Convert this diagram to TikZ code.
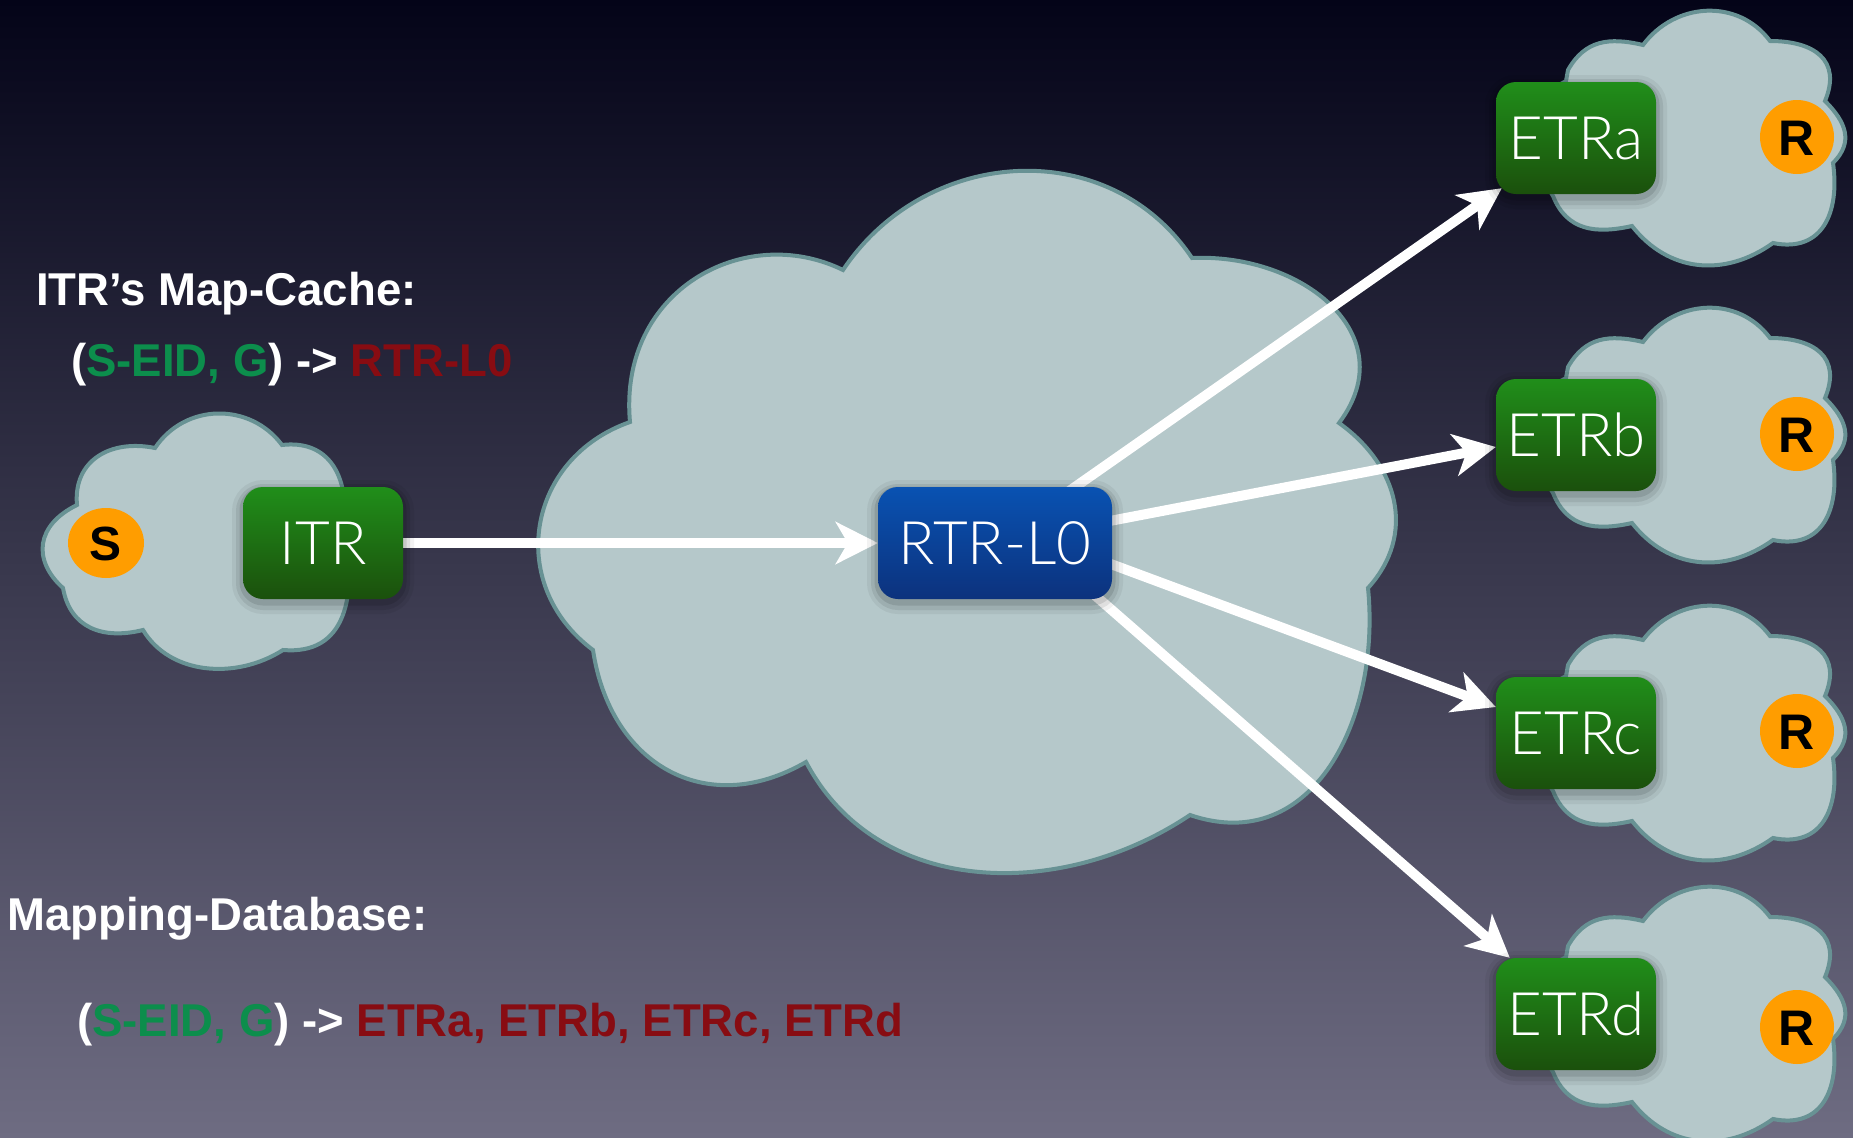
\documentclass[tikz,border=0pt]{standalone}
\usepackage{fontspec}
\setmainfont{Liberation Sans}
\newfontfamily\labelfont{Liberation Sans}[FakeStretch=0.99]
\newfontfamily\boxfont{Lato Light}
\usetikzlibrary{arrows.meta,shapes.geometric}

\definecolor{bgtop}{RGB}{4,4,24}
\definecolor{bgmid}{RGB}{50,48,82}
\definecolor{bgbot}{RGB}{110,108,130}
\definecolor{cloudfill}{RGB}{181,200,202}
\definecolor{cloudline}{RGB}{104,146,148}
\definecolor{greentop}{RGB}{32,142,26}
\definecolor{greenbot}{RGB}{27,80,12}
\definecolor{bluetop}{RGB}{9,82,178}
\definecolor{bluebot}{RGB}{12,50,125}
\definecolor{hostorange}{RGB}{255,157,0}
\definecolor{eidgreen}{RGB}{12,142,76}
\definecolor{rlocred}{RGB}{136,12,18}

\pgfdeclarelayer{back}
\pgfdeclarelayer{links}
\pgfsetlayers{back,links,main}

\tikzset{
  cloudpath/.style={fill=cloudfill, draw=cloudline, line width=4pt, line join=miter},
  router/.style={rounded corners=20pt, minimum height=112pt, inner sep=0pt,
    text=white, font=\boxfont\fontsize{60pt}{62pt}\selectfont,
    text height=43pt, text depth=0pt,
    preaction={draw=black, draw opacity=0.05, line width=22pt, transform canvas={yshift=-4pt}},
    preaction={draw=black, draw opacity=0.08, line width=14pt, transform canvas={yshift=-4pt}},
    preaction={draw=black, draw opacity=0.10, line width=7pt, transform canvas={yshift=-3pt}}},
  xtr/.style={router, minimum width=160pt, top color=greentop, bottom color=greenbot},
  rtrbox/.style={router, minimum width=234pt, top color=bluetop, bottom color=bluebot},
  host/.style={circle, fill=hostorange, minimum size=74pt, inner sep=0pt,
    font=\bfseries\fontsize{50pt}{52pt}\selectfont, text height=36pt, text depth=0pt},
  source/.style={ellipse, fill=hostorange, minimum width=76pt, minimum height=70pt, inner sep=0pt,
    font=\bfseries\fontsize{48pt}{50pt}\selectfont, text height=35pt, text depth=0pt},
  caption/.style={text=white, inner sep=0pt, anchor=base west,
    font=\labelfont\bfseries\fontsize{46pt}{50pt}\selectfont},
  flow/.style={draw=white, line width=10pt, -{Stealth[length=42pt, width=42pt, inset=12pt]}},
  % small cloud around an egress router, drawn relative to the router centre
  etrcloud/.pic={
    \draw[cloudpath] (-8,-68)
      .. controls (9,-98) and (33,-101) .. (67,-93)
      .. controls (99,-136) and (162,-140) .. (194,-97)
      .. controls (238,-97) and (266,-78) .. (249,-37)
      .. controls (270,-16) and (278,4) .. (257,25)
      .. controls (264,75) and (246,115) .. (197,105)
      .. controls (148,140) and (92,134) .. (56,88)
      .. controls (20,96) and (-9,93) .. (-23,58)
      -- (-40,30) -- (-40,-40) -- (-10,-57) -- cycle;
  }
}

\begin{document}
\begin{tikzpicture}[x=1pt, y=-1pt]
\useasboundingbox (0,0) rectangle (1853,1138);

\begin{pgfonlayer}{back}
  % backdrop
  \shade[top color=bgtop, middle color=bgmid, bottom color=bgbot] (0,0) rectangle (1853,1138);

  % source site
  \draw[cloudpath] (77,505)
    .. controls (73,460) and (111,439) .. (155,448)
    .. controls (185,403) and (250,402) .. (282,445)
    .. controls (325,440) and (347,470) .. (345,520)
    .. controls (358,600) and (345,655) .. (283,650)
    .. controls (236,680) and (170,675) .. (143,630)
    .. controls (103,640) and (70,628) .. (63,588)
    .. controls (32,560) and (36,525) .. (77,505)
    -- cycle;

  % core network
  \draw[cloudpath] (630,422)
    .. controls (618,290) and (745,222) .. (843,270)
    .. controls (926,146) and (1109,134) .. (1192,258)
    .. controls (1302,253) and (1405,335) .. (1339,423)
    .. controls (1398,465) and (1417,534) .. (1368,588)
    .. controls (1381,718) and (1313,857) .. (1190,815)
    .. controls (1062,901) and (878,898) .. (806,762)
    .. controls (706,820) and (610,764) .. (593,650)
    .. controls (505,584) and (527,458) .. (630,422)
    -- cycle;

  % receiver sites
  \pic at (1576,138) {etrcloud};
  \pic at (1576,435) {etrcloud};
  \pic at (1576,733) {etrcloud};
  \pic at (1576,1014) {etrcloud};
\end{pgfonlayer}

% routers
\node[xtr] (itr) at (323,543) {ITR};
\node[rtrbox] (rtr) at (995,543) {RTR-L0};
\node[xtr] (etra) at (1576,138) {ETRa};
\node[xtr] (etrb) at (1576,435) {ETRb};
\node[xtr] (etrc) at (1576,733) {ETRc};
\node[xtr] (etrd) at (1576,1014) {ETRd};

% hosts
\node[source] (s) at (106,543) {S};
\node[host] (ra) at (1797,137) {R};
\node[host] (rb) at (1797,434) {R};
\node[host] (rc) at (1797,731) {R};
\node[host] (rd) at (1797,1027) {R};

% replication paths
\coordinate (outc) at ([yshift=22pt]rtr.center);
\coordinate (outd) at ([yshift=35pt]rtr.center);
\begin{pgfonlayer}{links}
  \draw[flow] (itr) -- (rtr);
  \draw[flow] (rtr.center) -- ([xshift=6pt, yshift=6pt]etra.south west);
  \draw[flow] (rtr.center) -- ([yshift=-12pt]etrb.west);
  \draw[flow] (outc) -- ([yshift=26pt]etrc.west);
  \draw[flow] (outd) -- ([xshift=14pt]etrd.north west);
\end{pgfonlayer}

% mapping state
\node[caption] (cachehead) at (36,305) {ITR’s Map-Cache:};
\node[caption] (cacheentry) at (71,376) {(\textcolor{eidgreen}{S-EID, G}) -> \textcolor{rlocred}{RTR-L0}};
\node[caption] (dbhead) at (7,930) {Mapping-Database:};
\node[caption] (dbentry) at (77,1036) {(\textcolor{eidgreen}{S-EID, G}) -> \textcolor{rlocred}{ETRa, ETRb, ETRc, ETRd}};
\end{tikzpicture}
\end{document}
